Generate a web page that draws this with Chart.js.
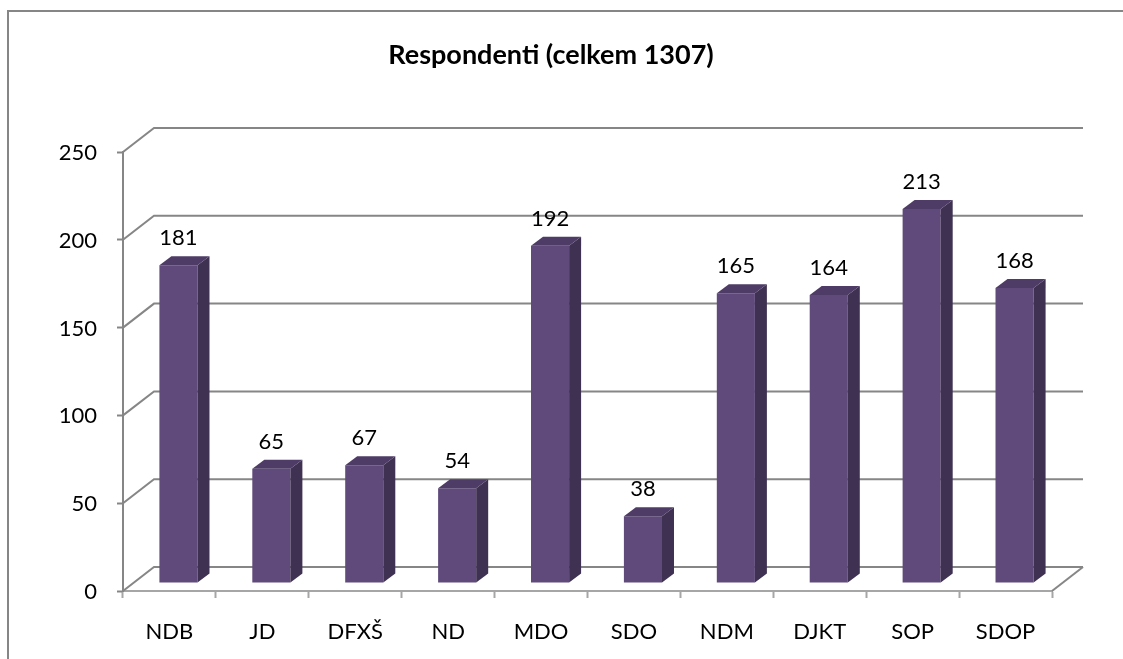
<!DOCTYPE html>
<html>
<head>
<meta charset="utf-8">
<script src="https://cdn.jsdelivr.net/npm/chart.js@4/dist/chart.umd.min.js"></script>
<style>
  html, body { margin: 0; padding: 0; background: #fff; }
  canvas { display: block; }
</style>
</head>
<body>
<canvas id="c" width="1123" height="659"></canvas>
<script>
const titleText = 'Respondenti (celkem 1307)';
const categories = ['NDB', 'JD', 'DFXŠ', 'ND', 'MDO', 'SDO', 'NDM', 'DJKT', 'SOP', 'SDOP'];
const values = [181, 65, 67, 54, 192, 38, 165, 164, 213, 168];
const yTicks = [0, 50, 100, 150, 200, 250];

const FONT = 'Lato, "Open Sans", sans-serif';
const GRID = '#868686';
// 3D geometry (pixels)
const G = { bx: 9, by: -8, ex: 12, ey: -9, wx: 31, wy: -24 };

const threeD = {
  id: 'threeD',
  beforeDraw(chart) {
    const ctx = chart.ctx;
    ctx.save();
    ctx.fillStyle = '#fff';
    ctx.fillRect(0, 0, chart.width, chart.height);
    ctx.strokeStyle = GRID;
    ctx.lineWidth = 2;
    ctx.strokeRect(8, 11, chart.width + 50, chart.height + 50);
    // title
    ctx.fillStyle = '#000';
    ctx.font = 'bold 27px ' + FONT;
    ctx.textAlign = 'center';
    ctx.textBaseline = 'middle';
    ctx.fillText(titleText, 551, 55);
    ctx.restore();
  },
  beforeDatasetsDraw(chart) {
    const ctx = chart.ctx;
    const ys = chart.scales.y, xs = chart.scales.x;
    const L = xs.left, R = xs.right;
    ctx.save();
    ctx.strokeStyle = GRID;
    ctx.lineWidth = 2;
    ys.ticks.forEach(t => {
      const y = ys.getPixelForValue(t.value);
      ctx.beginPath();
      ctx.moveTo(L, y);
      ctx.lineTo(L + G.wx, y + G.wy);
      ctx.lineTo(R + G.wx, y + G.wy);
      ctx.stroke();
    });
    // right floor edge
    const y0 = ys.getPixelForValue(0);
    ctx.beginPath();
    ctx.moveTo(R, y0);
    ctx.lineTo(R + G.wx, y0 + G.wy);
    ctx.stroke();
    ctx.restore();
    ctx.save();
    ctx.translate(G.bx, G.by);
  },
  afterDatasetsDraw(chart) {
    const ctx = chart.ctx;
    const meta = chart.getDatasetMeta(0);
    meta.data.forEach((bar, i) => {
      const p = bar.getProps(['x', 'y', 'base', 'width'], true);
      const l = p.x - p.width / 2, r = p.x + p.width / 2;
      // side face
      ctx.fillStyle = '#3f3151';
      ctx.beginPath();
      ctx.moveTo(r, p.y);
      ctx.lineTo(r + G.ex, p.y + G.ey);
      ctx.lineTo(r + G.ex, p.base + G.ey);
      ctx.lineTo(r, p.base);
      ctx.closePath();
      ctx.fill();
      // top face
      ctx.fillStyle = '#4e3c66';
      ctx.beginPath();
      ctx.moveTo(l, p.y);
      ctx.lineTo(l + G.ex, p.y + G.ey);
      ctx.lineTo(r + G.ex, p.y + G.ey);
      ctx.lineTo(r, p.y);
      ctx.closePath();
      ctx.fill();
      // data label
      ctx.fillStyle = '#000';
      ctx.font = '22px ' + FONT;
      ctx.textAlign = 'center';
      ctx.textBaseline = 'middle';
      ctx.fillText(String(chart.data.datasets[0].data[i]), p.x, p.y + G.ey - 18);
    });
    ctx.restore();
  }
};

new Chart(document.getElementById('c'), {
  type: 'bar',
  data: {
    labels: categories,
    datasets: [{
      data: values,
      backgroundColor: '#604a7b',
      borderWidth: 0,
      categoryPercentage: 1,
      barPercentage: 0.41,
      clip: false
    }]
  },
  options: {
    responsive: false,
    animation: false,
    events: [],
    layout: { padding: { left: 0, right: 71, top: 152, bottom: 0 } },
    plugins: {
      legend: { display: false },
      tooltip: { enabled: false },
      title: { display: false }
    },
    scales: {
      x: {
        grid: { offset: true, drawOnChartArea: false, tickColor: '#a6a6a6', tickLength: 7, tickWidth: 2 },
        border: { color: '#a6a6a6', width: 2 },
        ticks: { color: '#000', font: { family: FONT, size: 22 }, padding: 21, maxRotation: 0, autoSkip: false },
        afterFit(s) { s.height = 68; }
      },
      y: {
        min: 0, max: 250,
        afterBuildTicks(s) { s.ticks = yTicks.map(v => ({ value: v })); },
        grid: { drawOnChartArea: false, tickColor: GRID, tickLength: 6, tickWidth: 2 },
        border: { color: GRID, width: 2 },
        ticks: { color: '#000', font: { family: FONT, size: 22 }, padding: 20, labelOffset: 1 },
        afterFit(s) { s.width = 123; }
      }
    }
  },
  plugins: [threeD]
});
</script>
</body>
</html>
